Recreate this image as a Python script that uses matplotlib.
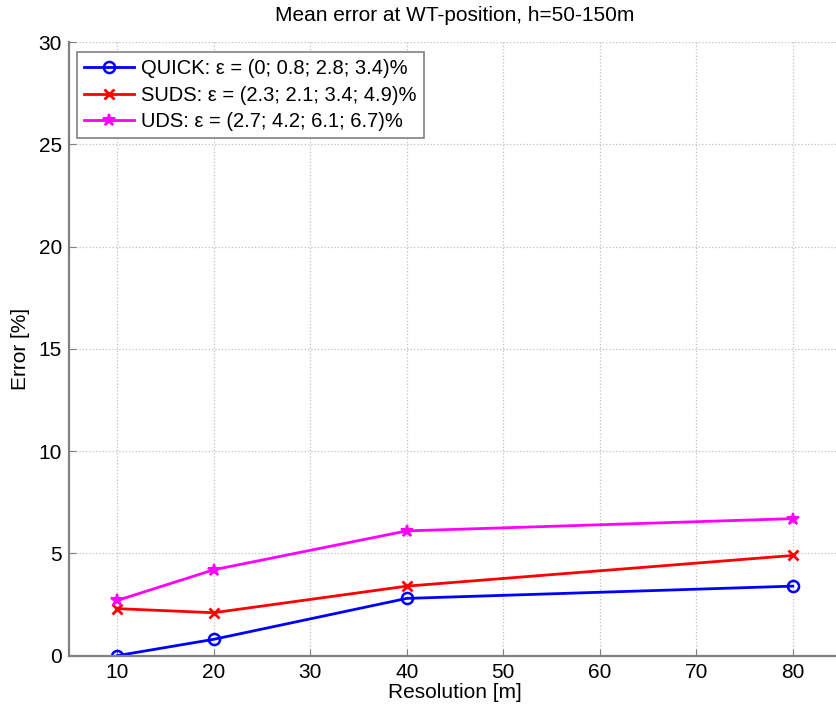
import matplotlib
matplotlib.use("Agg")
import matplotlib.pyplot as plt

plt.rcParams['font.family'] = ['Liberation Sans', 'DejaVu Sans']

# resolution [m]
resolution = [10, 20, 40, 80]

# mean error [%]
quick = [0, 0.8, 2.8, 3.4]
suds = [2.3, 2.1, 3.4, 4.9]
uds = [2.7, 4.2, 6.1, 6.7]

labels = ['QUICK: \u03b5 = (0; 0.8; 2.8; 3.4)%',
          'SUDS: \u03b5 = (2.3; 2.1; 3.4; 4.9)%',
          'UDS: \u03b5 = (2.7; 4.2; 6.1; 6.7)%']

x_ticks = [10, 20, 30, 40, 50, 60, 70, 80]
y_ticks = [0, 5, 10, 15, 20, 25, 30]

fig = plt.figure(figsize=(8.37, 7.13), dpi=100)
ax = fig.add_axes([0.0824, 0.0804, 0.9224, 0.8606])

ax.plot(resolution, quick, '-o', color='#0000ff', lw=2, ms=8,
        mfc='none', mew=1.8, label=labels[0])
ax.plot(resolution, suds, '-x', color='#ff0000', lw=2, ms=7,
        mew=2, label=labels[1])
ax.plot(resolution, uds, '-*', color='#ff00ff', lw=2, ms=9,
        mew=1.5, label=labels[2])

ax.set_xlim(5, 85)
ax.set_ylim(0, 30)
ax.set_xticks(x_ticks)
ax.set_yticks(y_ticks)
ax.tick_params(direction='in', labelsize=15, length=5, color='#808080', pad=5)
ax.grid(True, linestyle=':', color='#c0c0c0', lw=0.9)

for side in ['top', 'right']:
    ax.spines[side].set_visible(False)
for side in ['left', 'bottom']:
    ax.spines[side].set_color('#808080')
    ax.spines[side].set_linewidth(1.6)

ax.set_xlabel('Resolution [m]', fontsize=15, labelpad=1)
ax.set_ylabel('Error [%]', fontsize=15, labelpad=6)
ax.set_title('Mean error at WT-position, h=50-150m', fontsize=15, pad=15)

leg = ax.legend(loc='upper left', fontsize=14.5, handlelength=2.5,
                fancybox=False, framealpha=1, edgecolor='#808080',
                borderpad=0.35, labelspacing=0.38, handletextpad=0.35,
                borderaxespad=0, bbox_to_anchor=(0.01, 0.984))
leg.get_frame().set_linewidth(1.2)

fig.savefig('out.png', dpi=100)
